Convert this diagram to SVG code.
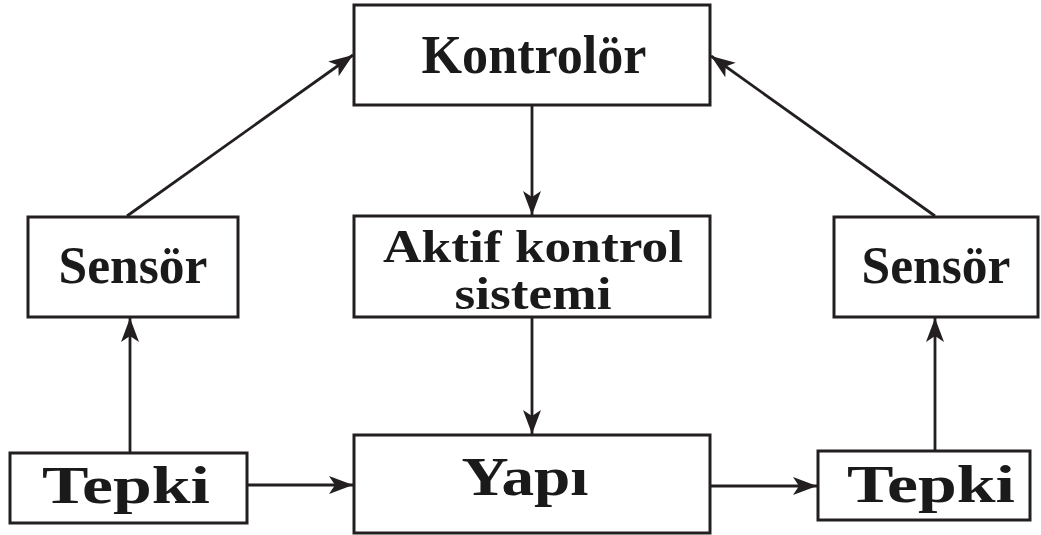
<svg xmlns="http://www.w3.org/2000/svg" width="1041" height="535" viewBox="0 0 1041 535">
<style>
.box{fill:#fff;stroke:#231f20;stroke-width:3}
.t{font-family:"Liberation Serif","Times New Roman",serif;font-weight:bold;fill:#1a1a1a;text-anchor:middle}
.c{stroke:#231f20;stroke-width:2.8;fill:none;marker-end:url(#ah)}
</style>
<defs>
<marker id="ah" viewBox="0 0 24 18" refX="24" refY="9" markerWidth="24" markerHeight="18" markerUnits="userSpaceOnUse" orient="auto">
<path d="M0,0 L24,9 L0,18 L6,9 Z" fill="#231f20"/>
</marker>
</defs>
<rect width="1041" height="535" fill="#fff"/>
<g id="connectors">
<line class="c" x1="127" y1="216" x2="353" y2="55"/>
<line class="c" x1="935" y1="216" x2="711" y2="56"/>
<line class="c" x1="532" y1="106" x2="532" y2="215"/>
<line class="c" x1="532" y1="318" x2="532" y2="434"/>
<line class="c" x1="130" y1="452" x2="130" y2="318"/>
<line class="c" x1="935" y1="450" x2="935" y2="318"/>
<line class="c" x1="248" y1="485" x2="353" y2="485"/>
<line class="c" x1="711" y1="486" x2="817" y2="486"/>
</g>
<g id="kontrolor">
<rect class="box" x="354" y="5" width="356" height="100"/>
<text class="t" x="534" y="73" font-size="54" textLength="225" lengthAdjust="spacingAndGlyphs">Kontrolör</text>
</g>
<g id="sensor-left">
<rect class="box" x="28" y="217" width="210" height="100"/>
<text class="t" x="133" y="283" font-size="52" textLength="149" lengthAdjust="spacingAndGlyphs">Sensör</text>
</g>
<g id="aktif">
<rect class="box" x="354" y="216" width="356" height="101"/>
<text class="t" x="533" y="262" font-size="47" textLength="300" lengthAdjust="spacingAndGlyphs">Aktif kontrol</text>
<text class="t" x="533" y="309" font-size="47" textLength="157" lengthAdjust="spacingAndGlyphs">sistemi</text>
</g>
<g id="sensor-right">
<rect class="box" x="834" y="217" width="204" height="100"/>
<text class="t" x="936" y="283" font-size="52" textLength="149" lengthAdjust="spacingAndGlyphs">Sensör</text>
</g>
<g id="tepki-left">
<rect class="box" x="10" y="453" width="237" height="70"/>
<text class="t" x="126" y="503" font-size="52" textLength="168" lengthAdjust="spacingAndGlyphs">Tepki</text>
</g>
<g id="yapi">
<rect class="box" x="354" y="435" width="356" height="98"/>
<text class="t" x="525" y="495" font-size="54" textLength="127" lengthAdjust="spacingAndGlyphs">Yapı</text>
</g>
<g id="tepki-right">
<rect class="box" x="818" y="451" width="212" height="69"/>
<text class="t" x="931" y="502" font-size="52" textLength="168" lengthAdjust="spacingAndGlyphs">Tepki</text>
</g>
</svg>
